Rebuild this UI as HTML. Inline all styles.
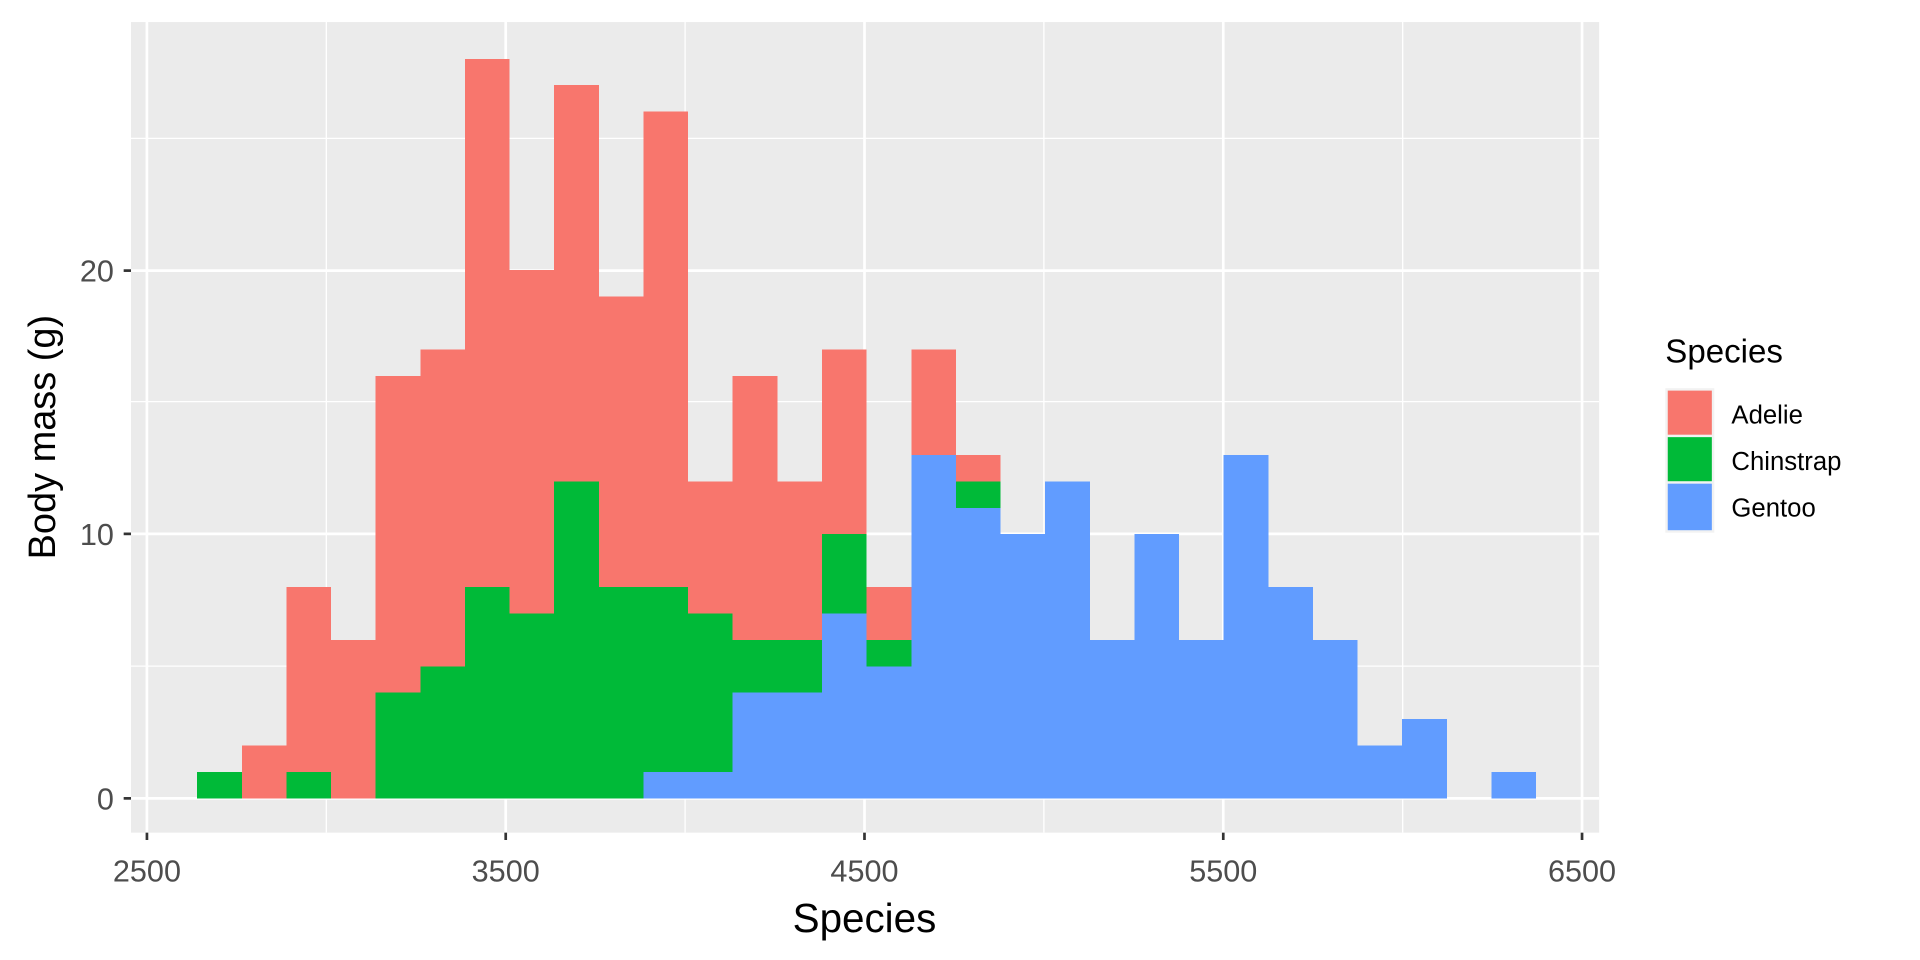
<!DOCTYPE html>
<html><head><style>html,body{margin:0;padding:0;background:#fff}svg{display:block}</style></head>
<body>
<svg width="1920" height="960" viewBox="0 0 1568 784" xmlns="http://www.w3.org/2000/svg" font-family="Liberation Sans, Arial, sans-serif">
<rect x="107" y="18" width="1199" height="662" fill="#EBEBEB"/>
<g stroke="#fff" stroke-width="1.1">
<line x1="107" x2="1306" y1="544" y2="544"/><line x1="107" x2="1306" y1="328" y2="328"/><line x1="107" x2="1306" y1="113" y2="113"/>
<line y1="18" y2="680" x1="266.5" x2="266.5"/><line y1="18" y2="680" x1="559.5" x2="559.5"/><line y1="18" y2="680" x1="852.5" x2="852.5"/><line y1="18" y2="680" x1="1145.5" x2="1145.5"/>
</g>
<g stroke="#fff" stroke-width="2.2">
<line x1="107" x2="1306" y1="652" y2="652"/><line x1="107" x2="1306" y1="436" y2="436"/><line x1="107" x2="1306" y1="221" y2="221"/>
<line y1="18" y2="680" x1="120" x2="120"/><line y1="18" y2="680" x1="413" x2="413"/><line y1="18" y2="680" x1="706" x2="706"/><line y1="18" y2="680" x1="999" x2="999"/><line y1="18" y2="680" x1="1292" x2="1292"/>
</g>
<g id="bars" shape-rendering="crispEdges"></g>
<g stroke="#333" stroke-width="2.2">
<line x1="101" x2="107" y1="652" y2="652"/><line x1="101" x2="107" y1="436" y2="436"/><line x1="101" x2="107" y1="221" y2="221"/>
<line y1="680" y2="686" x1="120" x2="120"/><line y1="680" y2="686" x1="413" x2="413"/><line y1="680" y2="686" x1="706" x2="706"/><line y1="680" y2="686" x1="999" x2="999"/><line y1="680" y2="686" x1="1292" x2="1292"/>
</g>
<g fill="#4D4D4D" font-size="25">
<text x="93" y="661" text-anchor="end">0</text><text x="93" y="445" text-anchor="end">10</text><text x="93" y="230" text-anchor="end">20</text>
<g text-anchor="middle"><text x="120" y="720">2500</text><text x="413" y="720">3500</text><text x="706" y="720">4500</text><text x="999" y="720">5500</text><text x="1292" y="720">6500</text></g>
</g>
<text x="706" y="761" text-anchor="middle" font-size="33" fill="#000">Species</text>
<text transform="translate(45,357) rotate(-90)" text-anchor="middle" font-size="31" fill="#000">Body mass (g)</text>
<text x="1360" y="296" font-size="27" fill="#000">Species</text>
<rect x="1360" y="317" width="40" height="118" fill="#F2F2F2"/>
<rect x="1362" y="319" width="36" height="36" fill="#F8766D"/>
<rect x="1362" y="357" width="36" height="36" fill="#00BA38"/>
<rect x="1362" y="395" width="36" height="38" fill="#619CFF"/>
<g font-size="21" fill="#000"><text x="1414" y="346">Adelie</text><text x="1414" y="384">Chinstrap</text><text x="1414" y="422">Gentoo</text></g>
<script>
var G=[0,0,0,0,0,0,0,0,0,0,1,1,4,4,7,5,13,11,10,12,6,10,6,13,8,6,2,3,0,1];
var C=[1,0,1,0,4,5,8,7,12,8,7,6,2,2,3,1,0,1,0,0,0,0,0,0,0,0,0,0,0,0];
var T=[1,2,8,6,16,17,28,20,27,19,26,12,16,12,17,8,17,13,10,12,6,10,6,13,8,6,2,3,0,1];
var g=document.getElementById('bars'),ns='http://www.w3.org/2000/svg';
function y(v){return 652-v*21.57;}
function r(x,a,b,c){if(b<=a)return;var e=document.createElementNS(ns,'rect');e.setAttribute('x',x);e.setAttribute('width',36.45);e.setAttribute('y',y(b));e.setAttribute('height',y(a)-y(b));e.setAttribute('fill',c);g.appendChild(e);}
for(var i=0;i<30;i++){var x=161+i*36.45;r(x,0,G[i],'#619CFF');r(x,G[i],G[i]+C[i],'#00BA38');r(x,G[i]+C[i],T[i],'#F8766D');}
</script>
</svg>
</body></html>
